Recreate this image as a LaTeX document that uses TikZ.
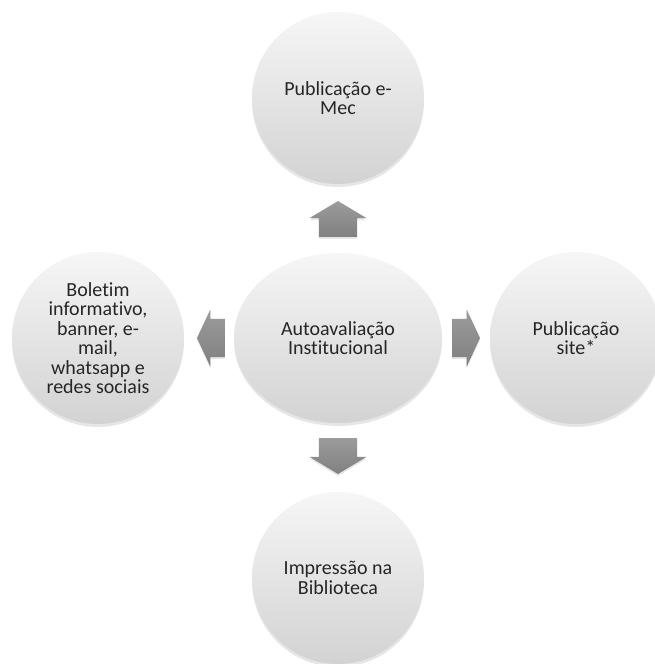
\documentclass[tikz,border=0pt]{standalone}
\usepackage{fontspec}
\setmainfont[Ligatures=NoCommon]{Carlito}
\usetikzlibrary{positioning,calc,shapes.geometric,shapes.arrows,shadows}
\begin{document}
\begin{tikzpicture}[x=1pt,y=1pt,inner sep=0pt,outer sep=0pt,
		bubble/.style={circle,minimum size=172pt,top color=gray!7,bottom color=gray!35,
			drop shadow={shadow xshift=0pt,shadow yshift=-3pt,opacity=0.2},
			align=center,text=black!85,font=\fontsize{20}{19.5}\selectfont},
		blockarrow/.style={single arrow,anchor=tail,minimum height=36pt,inner xsep=19pt,inner ysep=0pt,
			single arrow head extend=9.5pt,single arrow tip angle=118,
			top color=gray!78,bottom color=gray!100,
			drop shadow={shadow xshift=0pt,shadow yshift=-2pt,opacity=0.2}},
		sidearrow/.style={blockarrow,minimum height=28pt,inner xsep=0pt,inner ysep=19pt,single arrow tip angle=130}]
			\useasboundingbox (-338,-326) rectangle (316,338) ;
			\node[bubble,ellipse,minimum width=208pt,minimum height=170pt] (aval) at (0,0) {Autoavaliação\\Institucional} ;
			\node[bubble,above=69pt of aval] (emec) {Publicação e-\\Mec} ;
			\node[bubble,right=48pt of aval] (site) {Publicação\\site*} ;
			\node[bubble,below=69pt of aval] (bibl) {Impressão na\\Biblioteca} ;
			\node[bubble,left=50pt of aval] (boletim) {Boletim\\informativo,\\banner, e-\\mail,\\whatsapp e\\redes sociais} ;
			\node[blockarrow,shape border rotate=90] (toemec) at ([yshift=16pt]aval.north) {} ;
			\node[sidearrow] (tosite) at ([xshift=10pt]aval.east) {} ;
			\node[blockarrow,shape border rotate=270] (tobibl) at ([yshift=-15pt]aval.south) {} ;
			\node[sidearrow,shape border rotate=180] (toboletim) at ([xshift=-9pt]aval.west) {} ;
		\end{tikzpicture}
\end{document}
